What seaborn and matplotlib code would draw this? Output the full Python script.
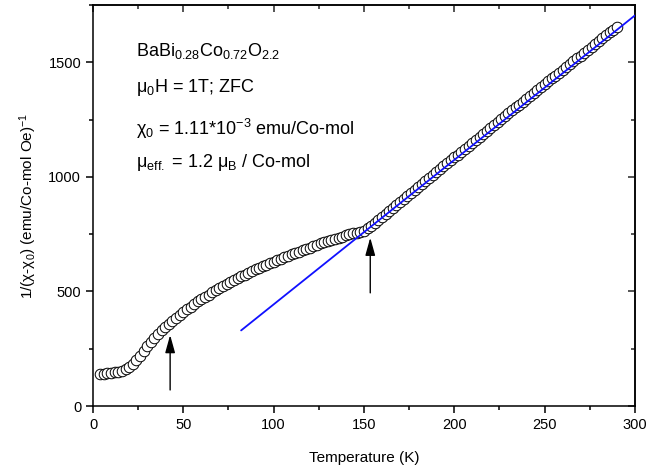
import numpy as np
import pandas as pd
import matplotlib
matplotlib.use("Agg")
import matplotlib.pyplot as plt
from matplotlib.ticker import MultipleLocator
import seaborn as sns

temperature = [4, 6, 8, 10, 12, 14, 16, 18, 20, 22, 24, 26, 28, 30, 32, 34, 36, 38, 40,
               42, 44, 46, 48, 50, 52, 54, 56, 58, 60, 62, 64, 66, 68, 70, 72, 74, 76, 78,
               80, 82, 84, 86, 88, 90, 92, 94, 96, 98, 100, 102, 104, 106, 108, 110, 112,
               114, 116, 118, 120, 122, 124, 126, 128, 130, 132, 134, 136, 138, 140, 142,
               144, 146, 148, 150, 152, 154, 156, 158, 160, 162, 164, 166, 168, 170, 172,
               174, 176, 178, 180, 182, 184, 186, 188, 190, 192, 194, 196, 198, 200, 202,
               204, 206, 208, 210, 212, 214, 216, 218, 220, 222, 224, 226, 228, 230, 232,
               234, 236, 238, 240, 242, 244, 246, 248, 250, 252, 254, 256, 258, 260, 262,
               264, 266, 268, 270, 272, 274, 276, 278, 280, 282, 284, 286, 288, 290]
inv_chi = [138, 140, 142, 144, 147, 150, 155, 162, 172, 185, 200, 218, 238, 260, 280, 298,
           315, 331, 345, 360, 373, 385, 398, 410, 422, 434, 446, 457, 467, 476, 486, 496,
           505, 514, 524, 533, 542, 550, 558, 566, 574, 581, 588, 596, 603, 610, 617, 624,
           630, 637, 643, 650, 656, 662, 668, 673, 679, 685, 692, 698, 704, 710, 715, 720,
           725, 730, 735, 740, 745, 750, 754, 757, 761, 766, 775, 787, 800, 812, 826, 840,
           853, 866, 879, 892, 905, 918, 931, 944, 957, 969, 982, 995, 1008, 1021, 1034,
           1046, 1059, 1072, 1085, 1098, 1111, 1124, 1137, 1150, 1163, 1176, 1188, 1201,
           1214, 1226, 1239, 1252, 1265, 1278, 1291, 1304, 1316, 1329, 1342, 1354, 1367,
           1380, 1393, 1405, 1417, 1430, 1442, 1455, 1467, 1480, 1493, 1505, 1518, 1530,
           1543, 1556, 1568, 1581, 1593, 1606, 1618, 1631, 1643, 1656]

# Curie-Weiss fit line
fit_T = [82, 300]
fit_V = [330, 1705]

# arrows marking the transitions (x, tail, head)
arrow_T = [42.7, 153.5]
arrow_tail = [70, 494]
arrow_head = [310, 735]

sns.set_theme(style="ticks")
plt.rcParams['font.family'] = ['Liberation Sans', 'DejaVu Sans']
plt.rcParams['mathtext.fontset'] = 'custom'
plt.rcParams['mathtext.rm'] = 'Liberation Sans'
plt.rcParams['mathtext.it'] = 'Liberation Sans'
plt.rcParams['mathtext.default'] = 'regular'
plt.rcParams['text.color'] = 'black'
plt.rcParams['axes.labelcolor'] = 'black'

df = pd.DataFrame({'T': temperature, 'V': inv_chi})
fit_df = pd.DataFrame({'T': fit_T, 'V': fit_V})

fig = plt.figure(figsize=(6.62, 4.71), dpi=100)
ax = fig.add_axes([0.1405, 0.138, 0.8185, 0.851])

sns.scatterplot(data=df, x='T', y='V', ax=ax, marker='o', s=58,
                facecolor='white', edgecolor='black', linewidth=0.7, zorder=2)
sns.lineplot(data=fit_df, x='T', y='V', ax=ax, color='#1010ff', linewidth=1.3, zorder=3)

for t, y0, y1 in zip(arrow_T, arrow_tail, arrow_head):
    ax.annotate('', xy=(t, y1), xytext=(t, y0),
                arrowprops=dict(arrowstyle='-|>,head_length=0.9,head_width=0.25',
                                color='black', lw=1.0, shrinkA=0, shrinkB=0))

ax.set_xlim(0, 300)
ax.set_ylim(0, 1750)
ax.xaxis.set_major_locator(MultipleLocator(50))
ax.xaxis.set_minor_locator(MultipleLocator(25))
ax.yaxis.set_major_locator(MultipleLocator(500))
ax.yaxis.set_minor_locator(MultipleLocator(250))
ax.tick_params(which='both', direction='out', width=1.1, labelsize=10.5, colors='black')
ax.tick_params(which='major', length=5)
ax.tick_params(which='minor', length=3)

ax2 = ax.secondary_xaxis('top')
ax2.xaxis.set_major_locator(MultipleLocator(50))
ax2.xaxis.set_minor_locator(MultipleLocator(25))
ax2.tick_params(which='both', direction='in', width=1.1, labeltop=False)
ax2.tick_params(which='major', length=5)
ax2.tick_params(which='minor', length=3)
ax3 = ax.secondary_yaxis('right')
ax3.yaxis.set_major_locator(MultipleLocator(500))
ax3.yaxis.set_minor_locator(MultipleLocator(250))
ax3.tick_params(which='both', direction='in', width=1.1, labelright=False)
ax3.tick_params(which='major', length=5)
ax3.tick_params(which='minor', length=3)

for sp in ax.spines.values():
    sp.set_visible(True)
    sp.set_linewidth(1.1)
    sp.set_color('black')

ax.set_xlabel('Temperature (K)', fontsize=11, labelpad=14)
ax.set_ylabel(r'1/(χ-χ$_0$) (emu/Co-mol Oe)$^{-1}$', fontsize=11, labelpad=7)

tx = 0.08
ax.text(tx, 0.885, r'BaBi$_{0.28}$Co$_{0.72}$O$_{2.2}$', transform=ax.transAxes,
        fontsize=13, va='center')
ax.text(tx, 0.795, r'μ$_0$H = 1T; ZFC', transform=ax.transAxes, fontsize=13, va='center')
ax.text(tx, 0.69, r'χ$_0$ = 1.11*10$^{-3}$ emu/Co-mol', transform=ax.transAxes,
        fontsize=13, va='center')
ax.text(tx, 0.607, r'μ$_{eff.}$ = 1.2 μ$_B$ / Co-mol', transform=ax.transAxes,
        fontsize=13, va='center')

fig.savefig('out.png', dpi=100)
